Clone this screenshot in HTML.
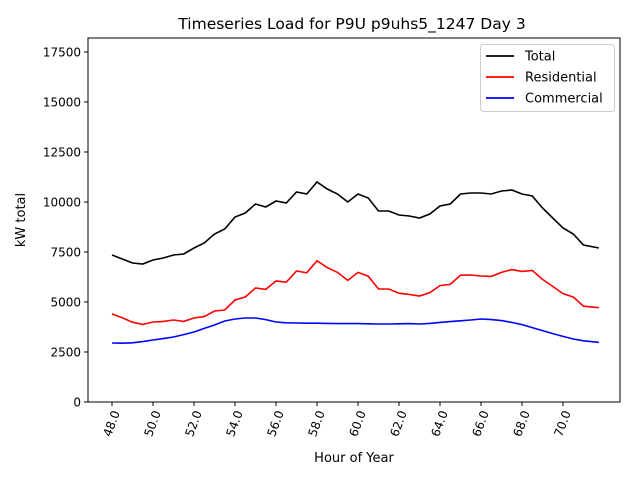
<!DOCTYPE html>
<html><head><meta charset="utf-8"><style>
body{margin:0;background:#fff;font-family:"Liberation Sans","DejaVu Sans",sans-serif}
</style></head><body>
<svg id="chart" width="640" height="480" xmlns="http://www.w3.org/2000/svg" font-family="DejaVu Sans, Liberation Sans, sans-serif"></svg>
<script>
const hours=[48,48.5,49,49.5,50,50.5,51,51.5,52,52.5,53,53.5,54,54.5,55,55.5,56,56.5,57,57.5,58,58.5,59,59.5,60,60.5,61,61.5,62,62.5,63,63.5,64,64.5,65,65.5,66,66.5,67,67.5,68,68.5,69,69.5,70,70.5,71,71.5,71.75];
const totalLoad=[7350,7150,6950,6900,7100,7200,7350,7400,7700,7950,8400,8650,9250,9450,9900,9750,10050,9950,10500,10400,11000,10650,10400,10000,10400,10200,9550,9550,9350,9300,9200,9400,9800,9900,10400,10450,10450,10400,10550,10600,10400,10300,9700,9200,8700,8400,7850,7750,7700];
const residentialLoad=[4400,4210,3990,3880,4000,4030,4100,4030,4200,4270,4550,4600,5100,5250,5700,5630,6050,5990,6550,6460,7060,6720,6480,6080,6480,6290,5650,5650,5440,5380,5300,5470,5820,5880,6340,6350,6300,6280,6480,6620,6530,6580,6130,5780,5420,5250,4790,4740,4720];
const commercialLoad=[2950,2940,2960,3020,3100,3170,3250,3370,3500,3680,3850,4050,4150,4200,4200,4120,4000,3960,3950,3940,3940,3930,3920,3920,3920,3910,3900,3900,3910,3920,3900,3930,3980,4020,4060,4100,4150,4120,4070,3980,3870,3720,3570,3420,3280,3150,3060,3010,2980];
const xTicks=[48,50,52,54,56,58,60,62,64,66,68,70];
const yTicks=[0,2500,5000,7500,10000,12500,15000,17500];

const L=88,R=620,T=38,B=402;
const xs=h=>112+(h-48)*20.5;
const ys=v=>402-v*0.02;
const svg=document.getElementById('chart');
const NS='http://www.w3.org/2000/svg';
function mk(tag,attrs,parent){const e=document.createElementNS(NS,tag);for(const k in attrs)e.setAttribute(k,attrs[k]);(parent||svg).appendChild(e);return e;}

let t=mk('text',{x:352,y:29,'text-anchor':'middle','font-size':'15.5'});t.textContent='Timeseries Load for P9U p9uhs5_1247  Day 3';



const gx=mk('g',{});


xTicks.forEach(v=>{const x=xs(v);mk('line',{x1:x,x2:x,y1:B,y2:B+4,stroke:'#000'},gx);
const tx=mk('text',{x:0,y:0,'font-size':'12','text-anchor':'end',transform:`translate(${x+4},${B+9}) rotate(-70)`,dy:'0.35em'},gx);tx.textContent=v.toFixed(1);

});
t=mk('text',{x:354,y:462,'text-anchor':'middle','font-size':'13'});t.textContent='Hour of Year';



const gy=mk('g',{});


yTicks.forEach(v=>{const y=ys(v);mk('line',{x1:L-4,x2:L,y1:y,y2:y,stroke:'#000'},gy);
const ty=mk('text',{x:L-7,y:y+4.5,'font-size':'12','text-anchor':'end'},gy);ty.textContent=v;

});
t=mk('text',{x:0,y:0,'text-anchor':'middle','font-size':'13',transform:'translate(25,220) rotate(-90)'});t.textContent='kW total';



function line(arr,color,name){const p=mk('polyline',{points:arr.map((v,i)=>xs(hours[i])+','+ys(v)).join(' '),fill:'none',stroke:color,'stroke-width':'1.6'});

}
line(totalLoad,'#000','total-line');
line(residentialLoad,'#f00','residential-line');
line(commercialLoad,'#00f','commercial-line');

const fr=mk('rect',{x:L,y:T,width:R-L,height:B-T,fill:'none',stroke:'#000','stroke-width':'1'});



const lg=mk('g',{});


mk('rect',{x:480.5,y:44.5,width:134,height:67,rx:3,fill:'#fff',stroke:'#ccc'},lg);
[['Total','#000'],['Residential','#f00'],['Commercial','#00f']].forEach((e,i)=>{const y=56+i*21;
const g=mk('g',{},lg);


mk('line',{x1:486,x2:514,y1:y,y2:y,stroke:e[1],'stroke-width':'1.8'},g);
const tt=mk('text',{x:525,y:y+4.5,'font-size':'13'},g);tt.textContent=e[0];});
</script>
</body></html>
